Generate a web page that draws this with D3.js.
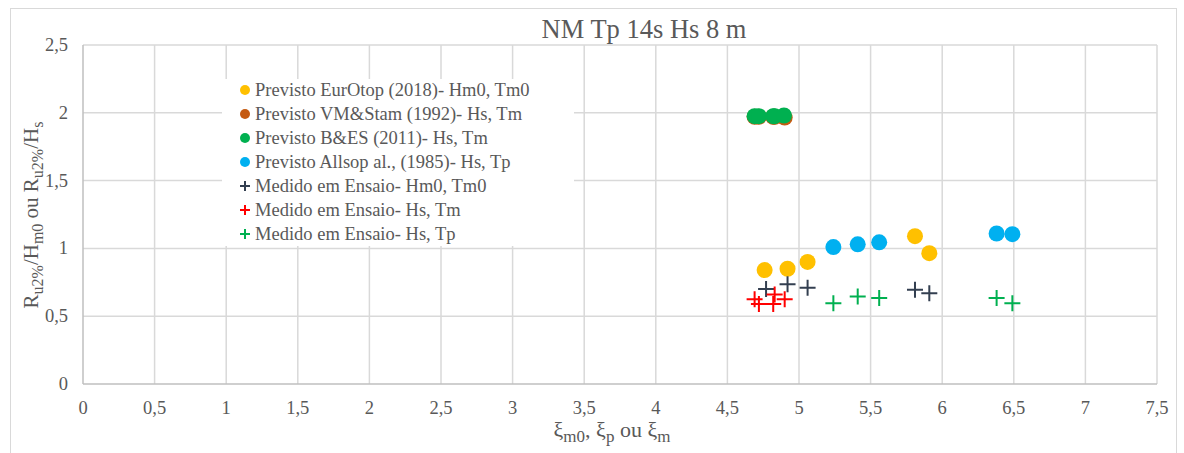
<!DOCTYPE html>
<html><head><meta charset="utf-8">
<script src="https://cdn.jsdelivr.net/npm/d3@7"></script>
<style>body{margin:0;background:#fff}</style>
</head><body><svg id="c" width="1184" height="453"></svg>
<script>
const title = "NM Tp 14s Hs 8 m";
const xTicks = [0,0.5,1,1.5,2,2.5,3,3.5,4,4.5,5,5.5,6,6.5,7,7.5];
const yTicks = [0,0.5,1,1.5,2,2.5];
const seriesNames = ["Previsto EurOtop (2018)- Hm0, Tm0","Previsto VM&Stam (1992)- Hs, Tm","Previsto B&ES (2011)- Hs, Tm","Previsto Allsop al., (1985)- Hs, Tp","Medido em Ensaio- Hm0, Tm0","Medido em Ensaio- Hs, Tm","Medido em Ensaio- Hs, Tp"];
const seriesColors = ["#FFC000","#C55A11","#00B050","#00B0F0","#333F50","#FF0000","#00B050"];
const seriesShapes = ["circle","circle","circle","circle","plus","plus","plus"];
const eurotopX = [4.76,4.92,5.06,5.81,5.91];
const eurotopY = [0.84,0.85,0.90,1.09,0.965];
const vmX = [4.69,4.72,4.82,4.83,4.90];
const vmY = [1.97,1.97,1.97,1.97,1.965];
const besX = [4.69,4.72,4.82,4.83,4.895];
const besY = [1.975,1.975,1.975,1.975,1.98];
const allsopX = [5.24,5.41,5.56,6.38,6.49];
const allsopY = [1.01,1.03,1.045,1.11,1.105];
const medM0X = [4.77,4.92,5.06,5.81,5.91];
const medM0Y = [0.70,0.735,0.71,0.695,0.67];
const medTmX = [4.69,4.72,4.82,4.83,4.90];
const medTmY = [0.625,0.59,0.59,0.66,0.625];
const medTpX = [5.24,5.41,5.56,6.38,6.49];
const medTpY = [0.595,0.645,0.635,0.635,0.595];
const seriesX = [eurotopX,vmX,besX,allsopX,medM0X,medTmX,medTpX];
const seriesY = [eurotopY,vmY,besY,allsopY,medM0Y,medTmY,medTpY];

const FF = "'Liberation Serif','Times New Roman','DejaVu Serif',serif";
const svg = d3.select("#c").attr("font-family",FF);
const x = d3.scaleLinear().domain([0,7.5]).range([83,1157]);
const y = d3.scaleLinear().domain([0,2.5]).range([384,45]);
const fmt = d => String(d).replace(".",",");

svg.append("rect").attr("x",10.5).attr("y",8.5).attr("width",1166).attr("height",460).attr("fill","#fff").attr("stroke","#d9d9d9");

svg.append("g").selectAll("line").data(yTicks.filter(d=>d>0)).join("line")
 .attr("x1",x(0)).attr("x2",x(7.5)).attr("y1",d=>y(d)).attr("y2",d=>y(d)).attr("stroke","#d9d9d9").attr("stroke-width",1.5);
svg.append("g").selectAll("line").data(xTicks.filter(d=>d>0)).join("line")
 .attr("y1",y(0)).attr("y2",y(2.5)).attr("x1",d=>x(d)).attr("x2",d=>x(d)).attr("stroke","#d9d9d9").attr("stroke-width",1.5);
svg.append("line").attr("x1",x(0)).attr("x2",x(7.5)).attr("y1",y(0)).attr("y2",y(0)).attr("stroke","#bfbfbf").attr("stroke-width",1.5);
svg.append("line").attr("x1",x(0)).attr("x2",x(0)).attr("y1",y(0)).attr("y2",y(2.5)).attr("stroke","#bfbfbf").attr("stroke-width",1.5);

svg.append("g").selectAll("text").data(yTicks).join("text")
 .attr("x",68).attr("y",d=>y(d)+6).attr("text-anchor","end").attr("font-size",18.5).attr("fill","#595959").text(fmt);
svg.append("g").selectAll("text").data(xTicks).join("text")
 .attr("x",d=>x(d)).attr("y",414).attr("text-anchor","middle").attr("font-size",18.5).attr("fill","#595959").text(fmt);

svg.append("text").attr("x",644).attr("y",38).attr("text-anchor","middle").attr("font-size",26.5).attr("fill","#595959").text(title);

function sub(t, parts, fs){
  parts.forEach(([s,isSub])=>{
    if(isSub) t.append("tspan").attr("dy",5).attr("font-size",fs).text(s);
    else t.append("tspan").attr("dy", t.node().childNodes.length? -5:0).text(s);
  });
}
const xt = svg.append("text").attr("x",612).attr("y",442).attr("text-anchor","middle").attr("font-size",22).attr("fill","#595959");
sub(xt, [["ξ",0],["m0",1],[", ξ",0],["p",1],[" ou ξ",0],["m",1]], 17);

const yt = svg.append("text").attr("transform","translate(43,215) rotate(-90)").attr("text-anchor","middle").attr("font-size",21).attr("fill","#595959");
sub(yt, [["R",0],["u2%",1],["/H",0],["m0",1],[" ou R",0],["u2%",1],["/H",0],["s",1]], 16);

const plot = svg.append("g");
const order = [1,2,0,3,4,6,5];
order.forEach(i=>{
  const pts = seriesX[i].map((v,k)=>[v,seriesY[i][k]]);
  const g = plot.append("g");
  if(seriesShapes[i]==="circle"){
    g.selectAll("circle").data(pts).join("circle").attr("cx",d=>x(d[0])).attr("cy",d=>y(d[1])).attr("r",8).attr("fill",seriesColors[i]);
  } else {
    g.selectAll("path").data(pts).join("path")
     .attr("d",d=>{const cx=x(d[0]),cy=y(d[1]);return `M${cx-8},${cy}H${cx+8}M${cx},${cy-8}V${cy+8}`;})
     .attr("stroke",seriesColors[i]).attr("stroke-width",2).attr("fill","none");
  }
});

const lg = svg.append("g");
lg.append("rect").attr("x",222).attr("y",79).attr("width",352).attr("height",167).attr("fill","#fff");
seriesNames.forEach((n,i)=>{
  const cy = 90+i*24, cx=245;
  if(seriesShapes[i]==="circle") lg.append("circle").attr("cx",cx).attr("cy",cy).attr("r",5).attr("fill",seriesColors[i]);
  else lg.append("path").attr("d",`M${cx-5},${cy}H${cx+5}M${cx},${cy-5}V${cy+5}`).attr("stroke",seriesColors[i]).attr("stroke-width",2);
  lg.append("text").attr("x",255).attr("y",cy+6).attr("font-size",18.5).attr("fill","#595959").text(n);
});
</script></body></html>
